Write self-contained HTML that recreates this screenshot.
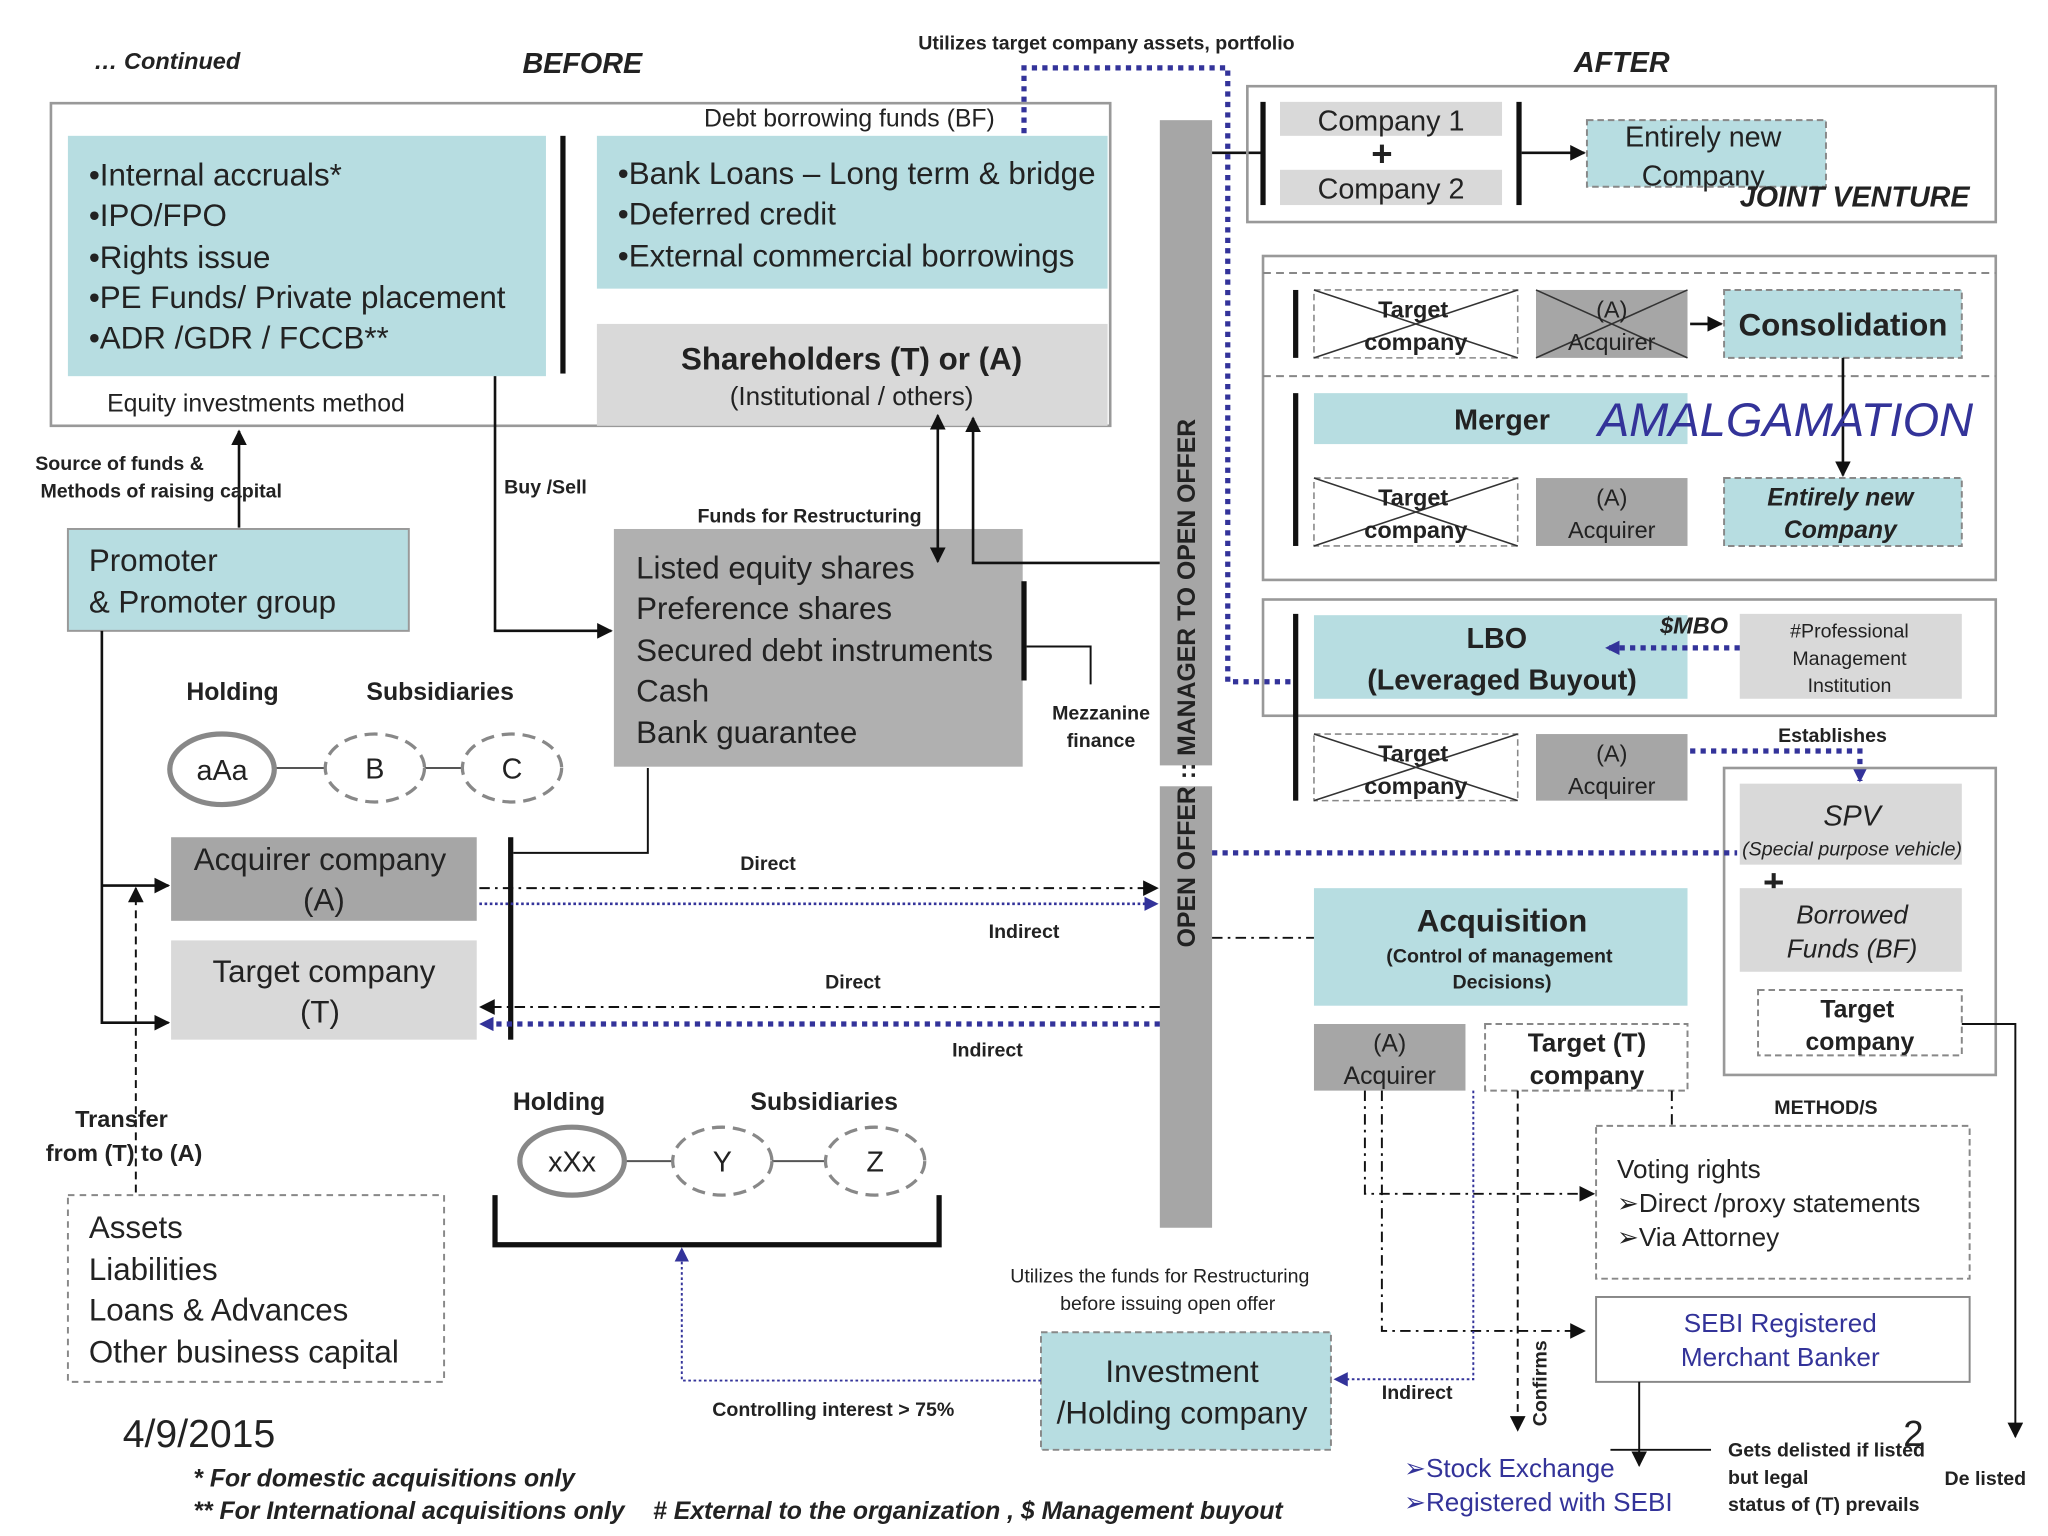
<!DOCTYPE html>
<html><head><meta charset="utf-8"><style>
html,body{margin:0;padding:0;background:#fff;}
svg{display:block;}
text{font-family:"Liberation Sans",sans-serif;fill:#222;}
.b{font-weight:bold;}
.bi{font-weight:bold;font-style:italic;}
.c{text-anchor:middle;}
</style></head><body>
<svg width="2048" height="1536" viewBox="0 0 1568 1176" xmlns="http://www.w3.org/2000/svg">
<defs>
<marker id="ah" viewBox="0 0 10 10" refX="9" refY="5" markerWidth="12" markerHeight="12" markerUnits="userSpaceOnUse" orient="auto-start-reverse"><path d="M0,0L10,5L0,10z" fill="#111"/></marker>
<marker id="ab" viewBox="0 0 10 10" refX="9" refY="5" markerWidth="11" markerHeight="11" markerUnits="userSpaceOnUse" orient="auto-start-reverse"><path d="M0,0L10,5L0,10z" fill="#33339a"/></marker>
</defs>
<rect width="1568" height="1176" fill="#fff"/>

<text x="72" y="53" font-size="18" class="bi">… Continued</text>
<text x="400" y="56" font-size="22" class="bi">BEFORE</text>
<text x="1205" y="55" font-size="22" class="bi">AFTER</text>
<text x="703" y="38" font-size="15" class="b">Utilizes target company assets, portfolio</text>

<polyline points="784,102 784,52 940,52 940,522 992,522" fill="none" stroke="#33339a" stroke-width="4" stroke-dasharray="4,4"/>

<rect x="39" y="79" width="811" height="247" fill="none" stroke="#999" stroke-width="2"/>
<rect x="52" y="104" width="366" height="184" fill="#b7dde1"/>
<g font-size="24"><text x="68" y="142">•Internal accruals*</text><text x="68" y="173">•IPO/FPO</text><text x="68" y="205">•Rights issue</text><text x="68" y="236">•PE Funds/ Private placement</text><text x="68" y="267">•ADR /GDR / FCCB**</text></g>
<rect x="429" y="104" width="4" height="182" fill="#111"/>
<text x="539" y="97" font-size="19">Debt borrowing funds (BF)</text>
<rect x="457" y="104" width="391" height="117" fill="#b7dde1"/>
<g font-size="24"><text x="473" y="141">•Bank Loans – Long term &amp; bridge</text><text x="473" y="172">•Deferred credit</text><text x="473" y="204">•External commercial borrowings</text></g>
<rect x="457" y="248" width="391" height="78" fill="#d9d9d9"/>
<text x="652" y="283" font-size="24" class="b c">Shareholders (T) or (A)</text>
<text x="652" y="310" font-size="20" class="c">(Institutional / others)</text>
<text x="82" y="315" font-size="19">Equity investments method</text>

<line x1="183" y1="404" x2="183" y2="330" stroke="#111" stroke-width="2" marker-end="url(#ah)"/>
<text x="27" y="360" font-size="15" class="b">Source of funds &amp;</text>
<text x="31" y="381" font-size="15" class="b">Methods of raising capital</text>
<rect x="52" y="405" width="261" height="78" fill="#b7dde1" stroke="#999" stroke-width="1.5"/>
<text x="68" y="437" font-size="24">Promoter</text>
<text x="68" y="469" font-size="24">&amp; Promoter group</text>

<polyline points="379,288 379,483 468,483" fill="none" stroke="#111" stroke-width="2" marker-end="url(#ah)"/>
<text x="386" y="378" font-size="15" class="b">Buy /Sell</text>
<text x="534" y="400" font-size="15" class="b">Funds for Restructuring</text>

<rect x="470" y="405" width="313" height="182" fill="#b0b0b0"/>
<g font-size="24"><text x="487" y="443">Listed equity shares</text><text x="487" y="474">Preference shares</text><text x="487" y="506">Secured debt instruments</text><text x="487" y="537">Cash</text><text x="487" y="569">Bank guarantee</text></g>
<line x1="718" y1="318" x2="718" y2="430" stroke="#111" stroke-width="2" marker-start="url(#ah)" marker-end="url(#ah)"/>
<polyline points="745,320 745,431 888,431" fill="none" stroke="#111" stroke-width="2" marker-start="url(#ah)"/>
<rect x="782" y="445" width="4" height="76" fill="#111"/>
<polyline points="786,495 835,495 835,524" fill="none" stroke="#111" stroke-width="1.5"/>
<text x="843" y="551" font-size="15" class="b c">Mezzanine</text>
<text x="843" y="572" font-size="15" class="b c">finance</text>

<rect x="888" y="92" width="40" height="494" fill="#a6a6a6"/>
<rect x="888" y="602" width="40" height="338" fill="#a6a6a6"/>
<text transform="translate(915,523) rotate(-90)" font-size="19" class="b c">OPEN OFFER :: MANAGER TO OPEN OFFER</text>
<line x1="928" y1="117" x2="967" y2="117" stroke="#111" stroke-width="2"/>

<text x="178" y="536" font-size="19" class="b c">Holding</text>
<text x="337" y="536" font-size="19" class="b c">Subsidiaries</text>
<line x1="210" y1="588" x2="249" y2="588" stroke="#555" stroke-width="1.5"/>
<line x1="325" y1="588" x2="354" y2="588" stroke="#555" stroke-width="1.5"/>
<ellipse cx="170" cy="589" rx="40" ry="27" fill="#fff" stroke="#888" stroke-width="4"/>
<text x="170" y="597" font-size="22" class="c">aAa</text>
<ellipse cx="287" cy="588" rx="38" ry="26" fill="#fff" stroke="#888" stroke-width="2.5" stroke-dasharray="10,6"/>
<text x="287" y="596" font-size="22" class="c">B</text>
<ellipse cx="392" cy="588" rx="38" ry="26" fill="#fff" stroke="#888" stroke-width="2.5" stroke-dasharray="10,6"/>
<text x="392" y="596" font-size="22" class="c">C</text>

<rect x="131" y="641" width="234" height="64" fill="#a6a6a6"/>
<text x="245" y="666" font-size="24" class="c">Acquirer company</text>
<text x="248" y="697" font-size="24" class="c">(A)</text>
<rect x="131" y="720" width="234" height="76" fill="#d9d9d9"/>
<text x="248" y="752" font-size="24" class="c">Target company</text>
<text x="245" y="783" font-size="24" class="c">(T)</text>
<rect x="389" y="641" width="4" height="155" fill="#111"/>
<polyline points="496,588 496,653 393,653" fill="none" stroke="#111" stroke-width="1.5"/>
<polyline points="78,483 78,783 129,783" fill="none" stroke="#111" stroke-width="2" marker-end="url(#ah)"/>
<line x1="78" y1="678" x2="129" y2="678" stroke="#111" stroke-width="2" marker-end="url(#ah)"/>
<line x1="104" y1="913" x2="104" y2="680" stroke="#111" stroke-width="1.5" stroke-dasharray="6,4" marker-end="url(#ah)"/>
<text x="93" y="863" font-size="18" class="b c">Transfer</text>
<text x="95" y="889" font-size="18" class="b c">from (T)  to (A)</text>

<line x1="367" y1="680" x2="886" y2="680" stroke="#111" stroke-width="1.5" stroke-dasharray="8,4,2,4" marker-end="url(#ah)"/>
<line x1="367" y1="692" x2="886" y2="692" stroke="#33339a" stroke-width="2" stroke-dasharray="2,2" marker-end="url(#ab)"/>
<text x="588" y="666" font-size="15" class="b c">Direct</text>
<text x="784" y="718" font-size="15" class="b c">Indirect</text>
<line x1="888" y1="771" x2="368" y2="771" stroke="#111" stroke-width="1.5" stroke-dasharray="8,4,2,4" marker-end="url(#ah)"/>
<line x1="888" y1="784" x2="368" y2="784" stroke="#33339a" stroke-width="4" stroke-dasharray="4,4" marker-end="url(#ab)"/>
<text x="653" y="757" font-size="15" class="b c">Direct</text>
<text x="756" y="809" font-size="15" class="b c">Indirect</text>

<text x="428" y="850" font-size="19" class="b c">Holding</text>
<text x="631" y="850" font-size="19" class="b c">Subsidiaries</text>
<line x1="478" y1="889" x2="515" y2="889" stroke="#555" stroke-width="1.5"/>
<line x1="591" y1="889" x2="632" y2="889" stroke="#555" stroke-width="1.5"/>
<ellipse cx="438" cy="889" rx="40" ry="26" fill="#fff" stroke="#888" stroke-width="4"/>
<text x="438" y="897" font-size="22" class="c">xXx</text>
<ellipse cx="553" cy="889" rx="38" ry="26" fill="#fff" stroke="#888" stroke-width="2.5" stroke-dasharray="10,6"/>
<text x="553" y="897" font-size="22" class="c">Y</text>
<ellipse cx="670" cy="889" rx="38" ry="26" fill="#fff" stroke="#888" stroke-width="2.5" stroke-dasharray="10,6"/>
<text x="670" y="897" font-size="22" class="c">Z</text>
<polyline points="379,915 379,953 719,953 719,915" fill="none" stroke="#111" stroke-width="4"/>

<rect x="52" y="915" width="288" height="143" fill="none" stroke="#888" stroke-width="1.5" stroke-dasharray="5,4"/>
<g font-size="24"><text x="68" y="948">Assets</text><text x="68" y="980">Liabilities</text><text x="68" y="1011">Loans &amp; Advances</text><text x="68" y="1043">Other business capital</text></g>
<text x="94" y="1108" font-size="30">4/9/2015</text>
<text x="148" y="1138" font-size="19" class="bi">* For domestic acquisitions only</text>
<text x="148" y="1163" font-size="19" class="bi">** For International acquisitions only</text>
<text x="500" y="1163" font-size="19" class="bi"># External to the organization , $ Management buyout</text>

<rect x="797" y="1020" width="222" height="90" fill="#b7dde1" stroke="#888" stroke-width="1.5" stroke-dasharray="5,3"/>
<text x="905" y="1058" font-size="24" class="c">Investment</text>
<text x="905" y="1090" font-size="24" class="c">/Holding company</text>
<polyline points="797,1057 522,1057 522,956" fill="none" stroke="#33339a" stroke-width="1.5" stroke-dasharray="2,2" marker-end="url(#ab)"/>
<text x="638" y="1084" font-size="15" class="b c">Controlling interest &gt; 75%</text>
<text x="888" y="982" font-size="15" class="c">Utilizes the funds for Restructuring</text>
<text x="894" y="1003" font-size="15" class="c">before issuing open offer</text>

<rect x="955" y="66" width="573" height="104" fill="none" stroke="#999" stroke-width="2"/>
<rect x="965" y="78" width="4" height="79" fill="#111"/>
<rect x="980" y="78" width="170" height="26" fill="#d9d9d9"/>
<text x="1065" y="100" font-size="22" class="c">Company 1</text>
<text x="1058" y="127" font-size="28" class="b c">+</text>
<rect x="980" y="130" width="170" height="27" fill="#d9d9d9"/>
<text x="1065" y="152" font-size="22" class="c">Company 2</text>
<rect x="1161" y="78" width="4" height="79" fill="#111"/>
<line x1="1165" y1="117" x2="1213" y2="117" stroke="#111" stroke-width="2" marker-end="url(#ah)"/>
<rect x="1215" y="92" width="183" height="51" fill="#b7dde1" stroke="#888" stroke-width="1.5" stroke-dasharray="5,3"/>
<text x="1304" y="112" font-size="22" class="c">Entirely new</text>
<text x="1304" y="142" font-size="22" class="c">Company</text>
<text x="1420" y="158" font-size="22" class="bi c">JOINT VENTURE</text>

<rect x="967" y="196" width="561" height="248" fill="none" stroke="#999" stroke-width="2"/>
<line x1="967" y1="209" x2="1528" y2="209" stroke="#888" stroke-width="1.5" stroke-dasharray="6,4"/>
<line x1="967" y1="288" x2="1528" y2="288" stroke="#888" stroke-width="1.5" stroke-dasharray="6,4"/>
<rect x="990" y="222" width="4" height="52" fill="#111"/>
<g stroke="#333" stroke-width="1.2">
<rect x="1006" y="222" width="156" height="52" fill="#fff" stroke="#888" stroke-dasharray="5,3"/><line x1="1006" y1="222" x2="1162" y2="274"/><line x1="1006" y1="274" x2="1162" y2="222"/>
<rect x="1176" y="222" width="116" height="52" fill="#a6a6a6" stroke="none"/><line x1="1176" y1="222" x2="1292" y2="274"/><line x1="1176" y1="274" x2="1292" y2="222"/>
</g>
<text x="1082" y="243" font-size="18" class="b c">Target</text><text x="1084" y="268" font-size="18" class="b c">company</text>
<text x="1234" y="243" font-size="18" class="c">(A)</text><text x="1234" y="268" font-size="18" class="c">Acquirer</text>
<line x1="1294" y1="248" x2="1318" y2="248" stroke="#111" stroke-width="2" marker-end="url(#ah)"/>
<rect x="1320" y="222" width="182" height="52" fill="#b7dde1" stroke="#888" stroke-width="1.5" stroke-dasharray="5,3"/>
<text x="1411" y="257" font-size="24" class="b c">Consolidation</text>
<line x1="1411" y1="274" x2="1411" y2="364" stroke="#111" stroke-width="2" marker-end="url(#ah)"/>
<rect x="990" y="301" width="4" height="117" fill="#111"/>
<rect x="1006" y="301" width="286" height="39" fill="#b7dde1"/>
<text x="1150" y="329" font-size="22" class="b c">Merger</text>
<text x="1367" y="334" font-size="36" font-style="italic" class="c" style="fill:#333399">AMALGAMATION</text>
<g stroke="#333" stroke-width="1.2">
<rect x="1006" y="366" width="156" height="52" fill="#fff" stroke="#888" stroke-dasharray="5,3"/><line x1="1006" y1="366" x2="1162" y2="418"/><line x1="1006" y1="418" x2="1162" y2="366"/>
</g>
<text x="1082" y="387" font-size="18" class="b c">Target</text><text x="1084" y="412" font-size="18" class="b c">company</text>
<rect x="1176" y="366" width="116" height="52" fill="#a6a6a6"/>
<text x="1234" y="387" font-size="18" class="c">(A)</text><text x="1234" y="412" font-size="18" class="c">Acquirer</text>
<rect x="1320" y="366" width="182" height="52" fill="#b7dde1" stroke="#888" stroke-width="1.5" stroke-dasharray="5,3"/>
<text x="1409" y="387" font-size="19" class="bi c">Entirely new</text><text x="1409" y="412" font-size="19" class="bi c">Company</text>

<rect x="967" y="459" width="561" height="89" fill="none" stroke="#999" stroke-width="2"/>
<rect x="990" y="470" width="4" height="143" fill="#111"/>
<rect x="1006" y="471" width="286" height="64" fill="#b7dde1"/>
<text x="1146" y="496" font-size="22" class="b c">LBO</text>
<text x="1150" y="528" font-size="22" class="b c">(Leveraged Buyout)</text>
<rect x="1332" y="470" width="170" height="65" fill="#d9d9d9"/>
<text x="1416" y="488" font-size="15" class="c">#Professional</text>
<text x="1416" y="509" font-size="15" class="c">Management</text>
<text x="1416" y="530" font-size="15" class="c">Institution</text>
<line x1="1332" y1="496" x2="1230" y2="496" stroke="#33339a" stroke-width="4" stroke-dasharray="4,4" marker-end="url(#ab)"/>
<text x="1297" y="485" font-size="18" class="bi c">$MBO</text>
<g stroke="#333" stroke-width="1.2">
<rect x="1006" y="562" width="156" height="51" fill="#fff" stroke="#888" stroke-dasharray="5,3"/><line x1="1006" y1="562" x2="1162" y2="613"/><line x1="1006" y1="613" x2="1162" y2="562"/>
</g>
<text x="1082" y="583" font-size="18" class="b c">Target</text><text x="1084" y="608" font-size="18" class="b c">company</text>
<rect x="1176" y="562" width="116" height="51" fill="#a6a6a6"/>
<text x="1234" y="583" font-size="18" class="c">(A)</text><text x="1234" y="608" font-size="18" class="c">Acquirer</text>
<polyline points="1294,575 1424,575 1424,598" fill="none" stroke="#33339a" stroke-width="4" stroke-dasharray="4,4" marker-end="url(#ab)"/>
<text x="1403" y="568" font-size="15" class="b c">Establishes</text>

<rect x="1320" y="588" width="208" height="235" fill="none" stroke="#999" stroke-width="2"/>
<rect x="1332" y="600" width="170" height="62" fill="#d9d9d9"/>
<text x="1418" y="632" font-size="22" font-style="italic" class="c">SPV</text>
<text x="1418" y="655" font-size="15" font-style="italic" class="c">(Special purpose vehicle)</text>
<text x="1358" y="685" font-size="28" class="b c">+</text>
<rect x="1332" y="680" width="170" height="64" fill="#d9d9d9"/>
<text x="1418" y="707" font-size="20" font-style="italic" class="c">Borrowed</text>
<text x="1418" y="733" font-size="20" font-style="italic" class="c">Funds (BF)</text>
<rect x="1346" y="758" width="156" height="50" fill="#fff" stroke="#888" stroke-width="1.5" stroke-dasharray="5,3"/>
<text x="1422" y="779" font-size="19" class="b c">Target</text>
<text x="1424" y="804" font-size="19" class="b c">company</text>
<polyline points="1502,784 1543,784 1543,1100" fill="none" stroke="#111" stroke-width="1.5" marker-end="url(#ah)"/>
<text x="1520" y="1137" font-size="15" class="b c">De listed</text>

<line x1="928" y1="653" x2="1330" y2="653" stroke="#33339a" stroke-width="4" stroke-dasharray="4,4"/>
<line x1="928" y1="718" x2="1006" y2="718" stroke="#111" stroke-width="1.5" stroke-dasharray="8,4,2,4"/>

<rect x="1006" y="680" width="286" height="90" fill="#b7dde1"/>
<text x="1150" y="713" font-size="24" class="b c">Acquisition</text>
<text x="1148" y="737" font-size="15" class="b c">(Control of management</text>
<text x="1150" y="757" font-size="15" class="b c">Decisions)</text>
<rect x="1006" y="784" width="116" height="51" fill="#a6a6a6"/>
<text x="1064" y="805" font-size="19" class="c">(A)</text><text x="1064" y="830" font-size="19" class="c">Acquirer</text>
<rect x="1137" y="784" width="155" height="51" fill="#fff" stroke="#888" stroke-width="1.5" stroke-dasharray="5,3"/>
<text x="1215" y="805" font-size="20" class="b c">Target  (T)</text>
<text x="1215" y="830" font-size="20" class="b c">company</text>

<text x="1398" y="853" font-size="15" class="b c">METHOD/S</text>
<rect x="1222" y="862" width="286" height="117" fill="none" stroke="#888" stroke-width="1.5" stroke-dasharray="5,3"/>
<g font-size="20"><text x="1238" y="902">Voting rights</text><text x="1238" y="928">➢Direct /proxy statements</text><text x="1238" y="954">➢Via Attorney</text></g>
<rect x="1222" y="993" width="286" height="65" fill="none" stroke="#888" stroke-width="1.5"/>
<text x="1363" y="1020" font-size="20" class="c" style="fill:#333399">SEBI Registered</text>
<text x="1363" y="1046" font-size="20" class="c" style="fill:#333399">Merchant Banker</text>

<polyline points="1045,835 1045,914 1220,914" fill="none" stroke="#111" stroke-width="1.5" stroke-dasharray="8,4,2,4" marker-end="url(#ah)"/>
<polyline points="1058,835 1058,1019 1213,1019" fill="none" stroke="#111" stroke-width="1.5" stroke-dasharray="8,4,2,4" marker-end="url(#ah)"/>
<polyline points="1128,835 1128,1056 1022,1056" fill="none" stroke="#33339a" stroke-width="1.5" stroke-dasharray="2,2" marker-end="url(#ab)"/>
<text x="1085" y="1071" font-size="15" class="b c">Indirect</text>
<line x1="1162" y1="835" x2="1162" y2="1095" stroke="#111" stroke-width="1.5" stroke-dasharray="6,4" marker-end="url(#ah)"/>
<text transform="translate(1184,1092) rotate(-90)" font-size="15" class="b">Confirms</text>
<line x1="1280" y1="835" x2="1280" y2="862" stroke="#111" stroke-width="1.5" stroke-dasharray="8,4,2,4"/>

<line x1="1255" y1="1058" x2="1255" y2="1122" stroke="#111" stroke-width="1.5" marker-end="url(#ah)"/>
<line x1="1233" y1="1110" x2="1310" y2="1110" stroke="#111" stroke-width="1.5"/>
<text x="1075" y="1131" font-size="20" style="fill:#333399">➢Stock Exchange</text>
<text x="1075" y="1157" font-size="20" style="fill:#333399">➢Registered with SEBI</text>
<text x="1323" y="1115" font-size="15" class="b">Gets delisted if listed</text>
<text x="1323" y="1136" font-size="15" class="b">but legal</text>
<text x="1323" y="1157" font-size="15" class="b">status of (T) prevails</text>
<text x="1465" y="1107" font-size="28" class="c">2</text>
</svg>
</body></html>
